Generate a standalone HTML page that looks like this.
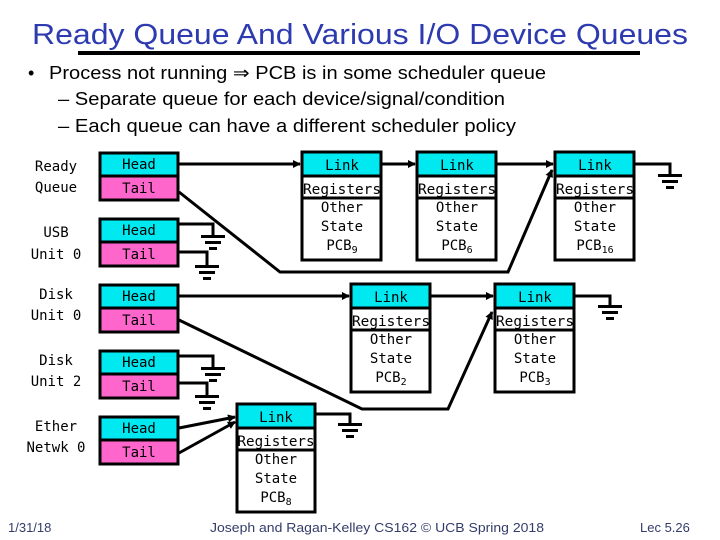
<!DOCTYPE html>
<html><head><meta charset="utf-8"><style>
html,body{margin:0;padding:0;background:#fff;}
svg{display:block;}
.m{font-family:"DejaVu Sans Mono","Liberation Mono",monospace;font-size:14px;fill:#000;}
.s{font-family:"Liberation Sans",sans-serif;}
</style></head><body>
<svg width="720" height="540" viewBox="0 0 720 540" xmlns="http://www.w3.org/2000/svg">
<defs>
<marker id="ar" markerWidth="8" markerHeight="8" refX="7" refY="4" orient="auto" markerUnits="userSpaceOnUse">
<path d="M0,0 L8,4 L0,8 z" fill="#000"/></marker>
</defs>
<text x="32" y="44" class="s" font-size="29" fill="#2e3bb0" textLength="656" lengthAdjust="spacingAndGlyphs">Ready Queue And Various I/O Device Queues</text>
<rect x="78" y="51" width="562" height="4" fill="#000"/>
<text x="28" y="79" class="s" font-size="18" fill="#000">•</text>
<text x="49" y="79" class="s" font-size="18" fill="#000" textLength="497" lengthAdjust="spacingAndGlyphs">Process not running ⇒ PCB is in some scheduler queue</text>
<text x="58" y="105" class="s" font-size="18" fill="#000" textLength="447" lengthAdjust="spacingAndGlyphs">– Separate queue for each device/signal/condition</text>
<text x="58" y="132" class="s" font-size="18" fill="#000" textLength="458" lengthAdjust="spacingAndGlyphs">– Each queue can have a different scheduler policy</text>

<g class="m" text-anchor="middle" font-size="15">
<text x="56" y="171">Ready</text><text x="56" y="192">Queue</text>
<text x="56" y="237">USB</text><text x="56" y="259">Unit 0</text>
<text x="56" y="299">Disk</text><text x="56" y="320">Unit 0</text>
<text x="56" y="365">Disk</text><text x="56" y="386">Unit 2</text>
<text x="56" y="431">Ether</text><text x="56" y="452">Netwk 0</text>
</g>

<g stroke="#000" stroke-width="3">
<rect x="100" y="153" width="78" height="23" fill="#00e8f0"/><rect x="100" y="176" width="78" height="24" fill="#ff66cc"/>
<rect x="100" y="219" width="78" height="23" fill="#00e8f0"/><rect x="100" y="242" width="78" height="24" fill="#ff66cc"/>
<rect x="100" y="285" width="78" height="23" fill="#00e8f0"/><rect x="100" y="308" width="78" height="24" fill="#ff66cc"/>
<rect x="100" y="351" width="78" height="23" fill="#00e8f0"/><rect x="100" y="374" width="78" height="24" fill="#ff66cc"/>
<rect x="100" y="417" width="78" height="23" fill="#00e8f0"/><rect x="100" y="440" width="78" height="24" fill="#ff66cc"/>
</g>
<g class="m" text-anchor="middle" font-size="13">
<text x="139" y="169">Head</text><text x="139" y="193">Tail</text>
<text x="139" y="235">Head</text><text x="139" y="259">Tail</text>
<text x="139" y="301">Head</text><text x="139" y="325">Tail</text>
<text x="139" y="367">Head</text><text x="139" y="391">Tail</text>
<text x="139" y="433">Head</text><text x="139" y="457">Tail</text>
</g>

<!-- PCB boxes -->
<g id="pcbs" stroke="#000">
<g>
<rect x="302" y="152" width="79" height="108" fill="#fff" stroke-width="3"/>
<rect x="302" y="152" width="79" height="24" fill="#00e8f0" stroke-width="3"/>
<line x1="302" y1="198" x2="381" y2="198" stroke-width="3"/>
</g>
<g>
<rect x="417" y="152" width="79" height="108" fill="#fff" stroke-width="3"/>
<rect x="417" y="152" width="79" height="24" fill="#00e8f0" stroke-width="3"/>
<line x1="417" y1="198" x2="496" y2="198" stroke-width="3"/>
</g>
<g>
<rect x="555" y="152" width="79" height="108" fill="#fff" stroke-width="3"/>
<rect x="555" y="152" width="79" height="24" fill="#00e8f0" stroke-width="3"/>
<line x1="555" y1="198" x2="634" y2="198" stroke-width="3"/>
</g>
<g>
<rect x="351" y="284" width="79" height="108" fill="#fff" stroke-width="3"/>
<rect x="351" y="284" width="79" height="24" fill="#00e8f0" stroke-width="3"/>
<line x1="351" y1="330" x2="430" y2="330" stroke-width="3"/>
</g>
<g>
<rect x="495" y="284" width="79" height="108" fill="#fff" stroke-width="3"/>
<rect x="495" y="284" width="79" height="24" fill="#00e8f0" stroke-width="3"/>
<line x1="495" y1="330" x2="574" y2="330" stroke-width="3"/>
</g>
<g>
<rect x="237" y="404" width="78" height="108" fill="#fff" stroke-width="3"/>
<rect x="237" y="404" width="78" height="24" fill="#00e8f0" stroke-width="3"/>
<line x1="237" y1="450" x2="315" y2="450" stroke-width="3"/>
</g>
</g>

<g class="m" text-anchor="middle" font-size="14">
<text x="342" y="170">Link</text><text x="342" y="194" textLength="78" lengthAdjust="spacingAndGlyphs">Registers</text><text x="342" y="212">Other</text><text x="342" y="231">State</text><text x="342" y="250">PCB<tspan font-size="10" dy="3">9</tspan></text>
<text x="457" y="170">Link</text><text x="457" y="194" textLength="78" lengthAdjust="spacingAndGlyphs">Registers</text><text x="457" y="212">Other</text><text x="457" y="231">State</text><text x="457" y="250">PCB<tspan font-size="10" dy="3">6</tspan></text>
<text x="595" y="170">Link</text><text x="595" y="194" textLength="78" lengthAdjust="spacingAndGlyphs">Registers</text><text x="595" y="212">Other</text><text x="595" y="231">State</text><text x="595" y="250">PCB<tspan font-size="10" dy="3">16</tspan></text>
<text x="391" y="302">Link</text><text x="391" y="326" textLength="78" lengthAdjust="spacingAndGlyphs">Registers</text><text x="391" y="344">Other</text><text x="391" y="363">State</text><text x="391" y="382">PCB<tspan font-size="10" dy="3">2</tspan></text>
<text x="535" y="302">Link</text><text x="535" y="326" textLength="78" lengthAdjust="spacingAndGlyphs">Registers</text><text x="535" y="344">Other</text><text x="535" y="363">State</text><text x="535" y="382">PCB<tspan font-size="10" dy="3">3</tspan></text>
<text x="276" y="422">Link</text><text x="276" y="446" textLength="77" lengthAdjust="spacingAndGlyphs">Registers</text><text x="276" y="464">Other</text><text x="276" y="483">State</text><text x="276" y="502">PCB<tspan font-size="10" dy="3">8</tspan></text>
</g>

<!-- connectors -->
<g stroke="#000" stroke-width="3" fill="none">
<line x1="179" y1="164" x2="300" y2="164" marker-end="url(#ar)"/>
<line x1="382" y1="164" x2="415" y2="164" marker-end="url(#ar)"/>
<line x1="497" y1="164" x2="553" y2="164" marker-end="url(#ar)"/>
<polyline points="179,192 280,272 508,272 552,170" marker-end="url(#ar)"/>
<line x1="179" y1="296" x2="349" y2="296" marker-end="url(#ar)"/>
<line x1="431" y1="296" x2="493" y2="296" marker-end="url(#ar)"/>
<polyline points="179,320 362,409 448,409 492,312" marker-end="url(#ar)"/>
<line x1="179" y1="428" x2="235" y2="417" marker-end="url(#ar)"/>
<line x1="179" y1="453" x2="235" y2="422" marker-end="url(#ar)"/>
<!-- ground wires -->
<polyline points="179,224 213,224 213,236"/>
<polyline points="179,252 207,252 207,266"/>
<polyline points="179,356 213,356 213,368"/>
<polyline points="179,383 207,383 207,396"/>
<polyline points="635,164 670,164 670,175"/>
<polyline points="575,296 610,296 610,306"/>
<polyline points="316,414 350,414 350,424"/>
</g>
<g fill="#000">
<!-- ground bars helper: top bar w24, mid w15, low w7 -->
<rect x="201" y="235" width="24" height="3"/><rect x="205" y="241" width="16" height="3"/><rect x="209" y="247" width="8" height="3"/>
<rect x="195" y="265" width="24" height="3"/><rect x="199" y="271" width="16" height="3"/><rect x="203" y="277" width="8" height="3"/>
<rect x="201" y="367" width="24" height="3"/><rect x="205" y="373" width="16" height="3"/><rect x="209" y="379" width="8" height="3"/>
<rect x="195" y="395" width="24" height="3"/><rect x="199" y="401" width="16" height="3"/><rect x="203" y="407" width="8" height="3"/>
<rect x="658" y="174" width="24" height="3"/><rect x="662" y="180" width="16" height="3"/><rect x="666" y="186" width="8" height="3"/>
<rect x="598" y="305" width="24" height="3"/><rect x="602" y="311" width="16" height="3"/><rect x="606" y="317" width="8" height="3"/>
<rect x="338" y="423" width="24" height="3"/><rect x="342" y="429" width="16" height="3"/><rect x="346" y="435" width="8" height="3"/>
</g>

<text x="8" y="532" class="s" font-size="13" fill="#333c6a">1/31/18</text>
<text x="210" y="532" class="s" font-size="13" fill="#333c6a" textLength="334" lengthAdjust="spacingAndGlyphs">Joseph and Ragan-Kelley CS162 © UCB Spring 2018</text>
<text x="640" y="532" class="s" font-size="13" fill="#333c6a">Lec 5.26</text>
</svg>
</body></html>
